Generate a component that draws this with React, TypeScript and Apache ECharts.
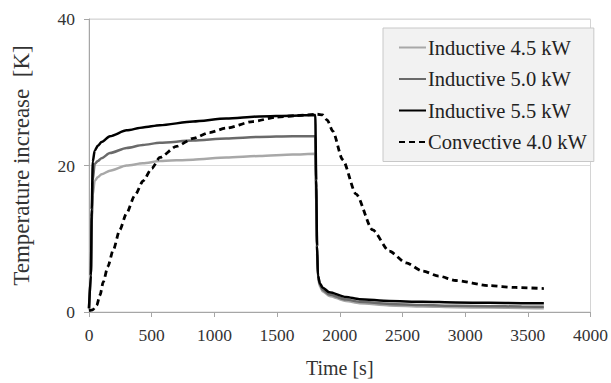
import React, { useEffect, useRef } from "react";
import * as echarts from "echarts";

const seriesNames = ["Inductive 4.5 kW", "Inductive 5.0 kW", "Inductive 5.5 kW", "Convective 4.0 kW"];

const inductiveTimes = [0, 15, 22, 30, 45, 70, 100, 167, 300, 430, 565, 830, 1095, 1360, 1625, 1805, 1812, 1819, 1826, 1842, 1865, 1917, 2050, 2156, 2395, 2660, 2925, 3190, 3450, 3628];
const inductive45 = [0.5, 5, 12, 16, 17.9, 18.4, 18.8, 19.3, 20.0, 20.3, 20.6, 20.8, 21.1, 21.3, 21.5, 21.6, 15, 8, 4.7, 3.5, 2.8, 2.2, 1.5, 1.2, 0.9, 0.75, 0.65, 0.6, 0.55, 0.5];
const inductive50 = [0.5, 5, 13, 18, 20.2, 20.6, 21.0, 21.7, 22.4, 22.8, 23.1, 23.4, 23.7, 23.9, 24.0, 24.0, 17, 9, 5, 3.7, 3.0, 2.4, 1.7, 1.4, 1.1, 0.95, 0.85, 0.8, 0.75, 0.7];
const inductive55 = [0.5, 5, 14, 20.5, 22.0, 22.7, 23.2, 24.0, 24.8, 25.2, 25.5, 26.0, 26.4, 26.7, 26.8, 26.9, 18, 9, 5.0, 3.9, 3.3, 2.7, 2.05, 1.75, 1.5, 1.4, 1.3, 1.25, 1.2, 1.2];

const convectiveTimes = [0, 30, 61, 88, 114, 150, 194, 245, 300, 365, 432, 500, 565, 698, 830, 960, 1095, 1307, 1493, 1650, 1820, 1864, 1900, 1944, 2023, 2130, 2262, 2395, 2530, 2660, 2790, 2925, 3190, 3400, 3628];
const convective40 = [0.2, 0.3, 0.9, 2.3, 4.1, 6.2, 8.5, 11.2, 13.5, 15.9, 17.9, 19.6, 21.1, 22.6, 23.7, 24.5, 25.1, 26.0, 26.6, 26.8, 27.0, 26.9, 26.2, 24.7, 20.8, 16.1, 11.2, 8.3, 6.7, 5.6, 4.9, 4.3, 3.6, 3.35, 3.2];

const xTicks = { min: 0, max: 4000, interval: 500 };
const yTicks = { min: 0, max: 40, interval: 20 };

const FONT = "'Liberation Serif', 'Times New Roman', serif";

function zip(t: number[], v: number[]) {
  return t.map((x, i) => [x, v[i]]);
}

export default function App() {
  const ref = useRef<HTMLDivElement>(null);
  useEffect(() => {
    if (!ref.current) return;
    const chart = echarts.init(ref.current, undefined, { renderer: "svg" });
    const lineSeries = (name: string, data: number[][], color: string, type: any, width: number) => ({
      name,
      type: "line",
      data,
      showSymbol: false,
      symbol: "none",
      smooth: 0.25,
      smoothMonotone: "x",
      lineStyle: { color, width, type },
      itemStyle: { color },
      emphasis: { disabled: true },
    });
    chart.setOption({
      animation: false,
      grid: {
        left: 89,
        top: 19,
        right: 19,
        bottom: 66,
        show: true,
        borderColor: "#d4d4d4",
        borderWidth: 1,
      },
      xAxis: {
        type: "value",
        min: xTicks.min,
        max: xTicks.max,
        interval: xTicks.interval,
        name: "Time [s]",
        nameLocation: "middle",
        nameGap: 46,
        nameTextStyle: { fontFamily: FONT, fontSize: 20, color: "#333" },
        axisLine: { show: true, lineStyle: { color: "#a6a6a6", width: 1 } },
        axisTick: { show: true, inside: false, length: 5, lineStyle: { color: "#a6a6a6" } },
        axisLabel: { fontFamily: FONT, fontSize: 17.5, color: "#333", margin: 14, formatter: (v: number) => String(v) },
        splitLine: { show: false },
      },
      yAxis: {
        type: "value",
        min: yTicks.min,
        max: yTicks.max,
        interval: yTicks.interval,
        name: "Temperature increase  [K]",
        nameLocation: "middle",
        nameGap: 56,
        nameRotate: 90,
        nameTextStyle: { fontFamily: FONT, fontSize: 23, color: "#333" },
        axisLine: { show: true, lineStyle: { color: "#a6a6a6", width: 1 } },
        axisTick: { show: true, inside: false, length: 5, lineStyle: { color: "#a6a6a6" } },
        axisLabel: { fontFamily: FONT, fontSize: 17.5, color: "#333", margin: 14, formatter: (v: number) => String(v) },
        splitLine: { show: true, lineStyle: { color: "#dcdcdc", width: 1 } },
      },
      legend: {
        orient: "vertical",
        left: 383,
        top: 28,
        data: seriesNames,
        backgroundColor: "#f2f2f2",
        borderColor: "#c8c8c8",
        borderWidth: 1,
        padding: [9, 7, 9, 15],
        itemWidth: 27,
        itemHeight: 14,
        itemGap: 10.5,
        itemStyle: { opacity: 0 },
        textStyle: { fontFamily: FONT, fontSize: 20.5, color: "#222", lineHeight: 20, padding: [0, 0, 0, -3] },
      },
      series: [
        lineSeries(seriesNames[0], zip(inductiveTimes, inductive45), "#a8a8a8", "solid", 2.5),
        lineSeries(seriesNames[1], zip(inductiveTimes, inductive50), "#6a6a6a", "solid", 2.5),
        lineSeries(seriesNames[2], zip(inductiveTimes, inductive55), "#000000", "solid", 2.5),
        lineSeries(seriesNames[3], zip(convectiveTimes, convective40), "#000000", [6, 4], 2.8),
      ],
    });
    return () => chart.dispose();
  }, []);
  return <div ref={ref} style={{ width: 611, height: 383, position: "absolute", left: 0, top: 0 }} />;
}
